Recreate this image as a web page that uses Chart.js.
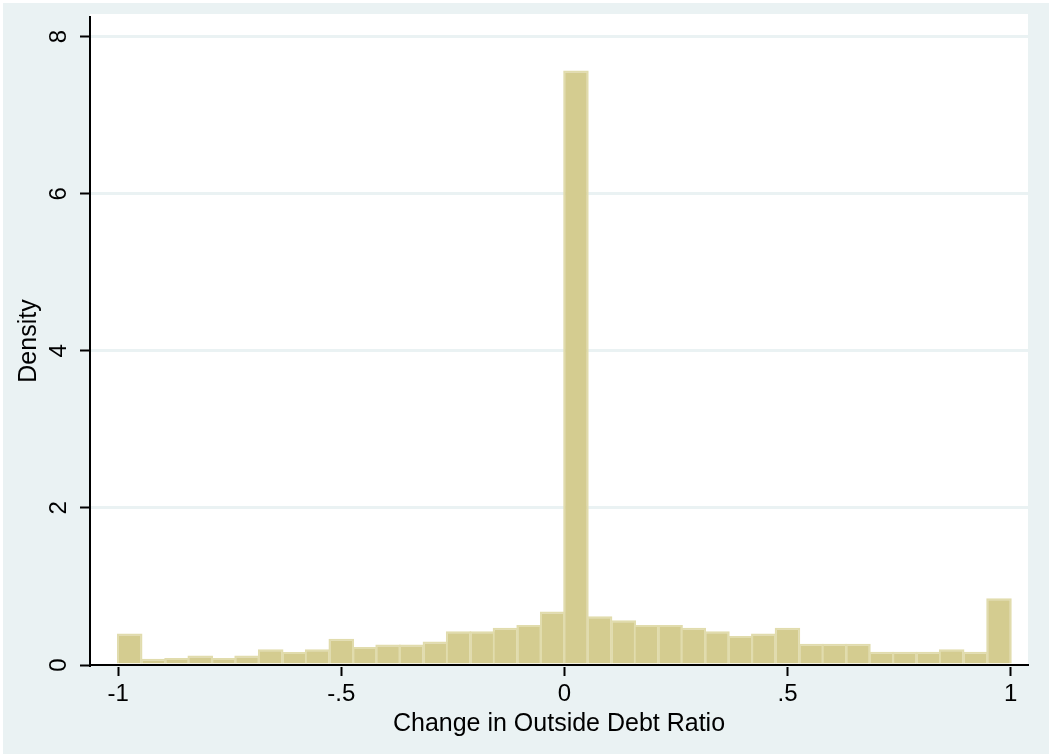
<!DOCTYPE html>
<html>
<head>
<meta charset="utf-8">
<script src="https://cdn.jsdelivr.net/npm/chart.js@4/dist/chart.umd.min.js"></script>
<style>
  html, body { margin: 0; padding: 0; background: #ffffff; }
  #wrap { position: absolute; left: 3px; top: 3px; width: 1046px; height: 751px; background: #eaf2f3; }
</style>
</head>
<body>
<div id="wrap"><canvas id="hist"></canvas></div>
<script>
// centres des classes (largeur 1/19)
const binCenters = [
  -0.974, -0.921, -0.868, -0.816, -0.763, -0.711, -0.658, -0.605, -0.553, -0.500,
  -0.447, -0.395, -0.342, -0.289, -0.237, -0.184, -0.132, -0.079, -0.026,
   0.026,  0.079,  0.132,  0.184,  0.237,  0.289,  0.342,  0.395,  0.447,  0.500,
   0.553,  0.605,  0.658,  0.711,  0.763,  0.816,  0.868,  0.921,  0.974
];
// densité
const density = [
  0.40, 0.08, 0.09, 0.12, 0.09, 0.12, 0.20, 0.165, 0.20, 0.335,
  0.23, 0.26, 0.26, 0.30, 0.43, 0.43, 0.475, 0.51, 0.68,
  7.57, 0.62, 0.57, 0.51, 0.51, 0.475, 0.43, 0.37, 0.40, 0.475,
  0.27, 0.27, 0.27, 0.17, 0.17, 0.17, 0.20, 0.17, 0.85
];
const xTickValues = [-1, -0.5, 0, 0.5, 1];
const xTickLabels = ['-1', '-.5', '0', '.5', '1'];
const yTickValues = [0, 2, 4, 6, 8];
const yTickLabels = ['0', '2', '4', '6', '8'];

const font = { family: "'Liberation Sans', Arial, sans-serif", size: 24 };
const titleFont = { family: "'Liberation Sans', Arial, sans-serif", size: 25 };

// fond blanc de la zone de tracé
const plotBg = {
  id: 'plotBg',
  beforeDraw(chart) {
    const a = chart.chartArea;
    const ctx = chart.ctx;
    ctx.save();
    ctx.fillStyle = '#ffffff';
    ctx.fillRect(a.left, a.top - 3, a.right - a.left, a.bottom - a.top + 3);
    ctx.restore();
  }
};

const points = binCenters.map((x, i) => ({ x: x, y: density[i] }));

new Chart(document.getElementById('hist'), {
  type: 'bar',
  data: {
    datasets: [{
      data: points,
      backgroundColor: '#d4cc90',
      borderColor: '#e1dcad',
      borderWidth: 2,
      barPercentage: 1.1,
      categoryPercentage: 1
    }]
  },
  options: {
    responsive: true,
    maintainAspectRatio: false,
    animation: false,
    layout: { padding: { top: 14, right: 21, left: 0, bottom: 0 } },
    plugins: { legend: { display: false }, tooltip: { enabled: false } },
    scales: {
      x: {
        type: 'linear',
        offset: false,
        min: -1.063,
        max: 1.039,
        afterBuildTicks: s => { s.ticks = xTickValues.map(v => ({ value: v })); },
        afterFit: s => { s.height = 89; },
        ticks: {
          color: '#000',
          font: font,
          padding: 4,
          maxRotation: 0,
          callback: (v) => xTickLabels[xTickValues.indexOf(v)]
        },
        grid: { offset: false, drawOnChartArea: false, tickLength: 11, tickColor: '#000', tickWidth: 2 },
        border: { color: '#000', width: 2 },
        title: {
          display: true,
          text: 'Change in Outside Debt Ratio',
          color: '#000',
          font: titleFont,
          padding: { top: 0, bottom: 15 }
        }
      },
      y: {
        min: 0,
        max: 8.25,
        afterBuildTicks: s => { s.ticks = yTickValues.map(v => ({ value: v })); },
        afterFit: s => { s.width = 87; s.paddingTop = 0; s.paddingBottom = 0; },
        ticks: {
          color: '#000',
          font: font,
          padding: 14,
          minRotation: 90,
          maxRotation: 90,
          crossAlign: 'center',
          callback: (v) => yTickLabels[yTickValues.indexOf(v)]
        },
        grid: { color: '#eaf2f3', lineWidth: 3, tickLength: 10, tickColor: '#000', tickWidth: 2 },
        border: { color: '#000', width: 2 },
        title: {
          display: true,
          text: 'Density',
          color: '#000',
          font: titleFont,
          padding: { top: 11, bottom: 0 }
        }
      }
    }
  },
  plugins: [plotBg]
});
</script>
</body>
</html>
